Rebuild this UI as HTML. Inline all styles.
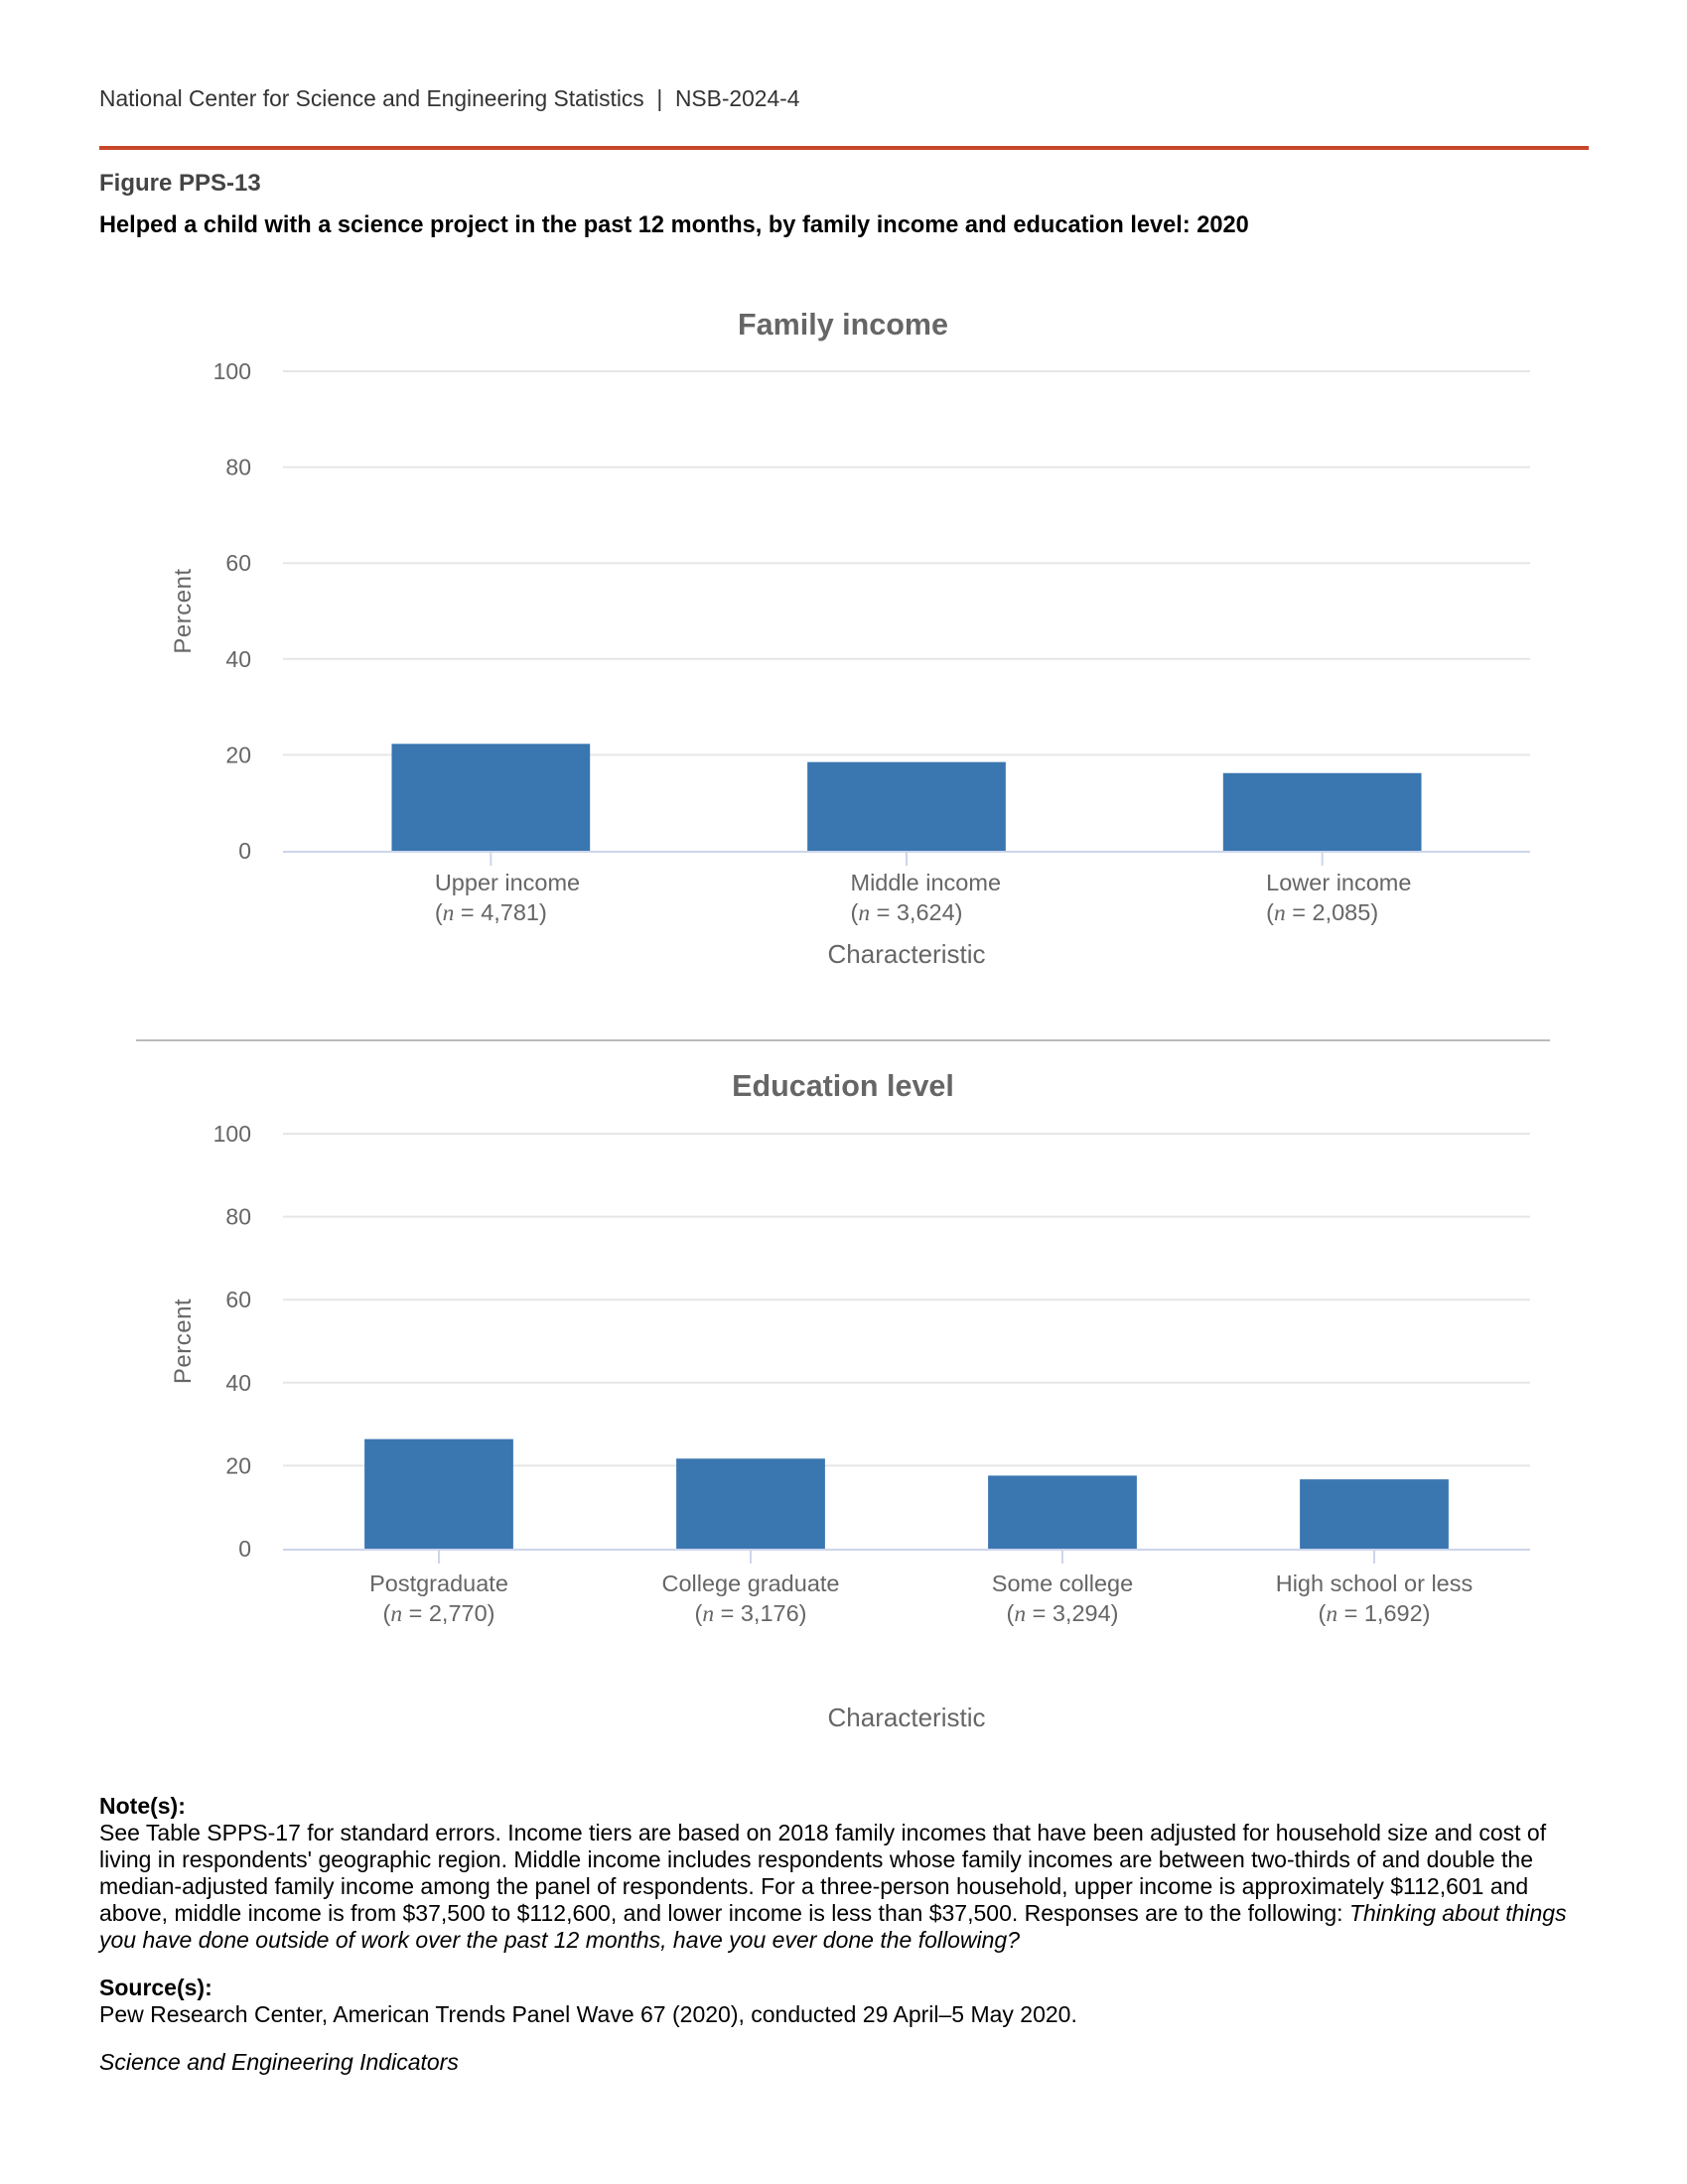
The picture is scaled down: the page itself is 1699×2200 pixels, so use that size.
<!DOCTYPE html>
<html><head><meta charset="utf-8"><style>
body{margin:0;background:#fff;}
#page{position:relative;width:1699px;height:2200px;overflow:hidden;font-family:"Liberation Sans",sans-serif;}
.t{position:absolute;white-space:nowrap;}
.note{position:absolute;left:100px;font-size:23px;color:#000;white-space:nowrap;line-height:27px;}
</style></head><body>
<div id="page">
<div class="t" style="left:100px;top:86px;font-size:22.8px;color:#333;">National Center for Science and Engineering Statistics&nbsp; |&nbsp; NSB-2024-4</div>
<div style="position:absolute;left:100px;top:147px;width:1500px;height:4px;background:#c8472b;"></div>
<div class="t" style="left:100px;top:171px;font-size:24px;font-weight:bold;color:#444;">Figure PPS-13</div>
<div class="t" style="left:100px;top:214px;font-size:23.6px;font-weight:bold;color:#000;">Helped a child with a science project in the past 12 months, by family income and education level: 2020</div>

<svg id="chart" width="1699" height="1800" style="position:absolute;left:0;top:0;font-family:'Liberation Sans',sans-serif;"></svg>

<div class="note" style="top:1806px;">
<b>Note(s):</b><br>
See Table SPPS-17 for standard errors. Income tiers are based on 2018 family incomes that have been adjusted for household size and cost of<br>
living in respondents' geographic region. Middle income includes respondents whose family incomes are between two-thirds of and double the<br>
median-adjusted family income among the panel of respondents. For a three-person household, upper income is approximately $112,601 and<br>
above, middle income is from $37,500 to $112,600, and lower income is less than $37,500. Responses are to the following: <i>Thinking about things</i><br>
<i>you have done outside of work over the past 12 months, have you ever done the following?</i>
</div>
<div class="note" style="top:1989px;"><b>Source(s):</b><br>Pew Research Center, American Trends Panel Wave 67 (2020), conducted 29 April–5 May 2020.</div>
<div class="note" style="top:2064px;"><i>Science and Engineering Indicators</i></div>
</div>
<script>
const incomeCategories = ["Upper income", "Middle income", "Lower income"];
const incomeN = ["4,781", "3,624", "2,085"];
const incomeValues = [22.3, 18.5, 16.2];
const eduCategories = ["Postgraduate", "College graduate", "Some college", "High school or less"];
const eduN = ["2,770", "3,176", "3,294", "1,692"];
const eduValues = [26.4, 21.7, 17.6, 16.7];
const yTicks = [0, 20, 40, 60, 80, 100];

const NS = "http://www.w3.org/2000/svg";
const svg = document.getElementById('chart');
function mk(tag, attrs, parent) {
  const e = document.createElementNS(NS, tag);
  for (const k in attrs) e.setAttribute(k, attrs[k]);
  (parent || svg).appendChild(e);
  return e;
}
function drawChart(cfg) {
  const x0 = 285, x1 = 1541;
  const y = v => cfg.yBottom - (v / 100) * (cfg.yBottom - cfg.yTop);
  const n = cfg.cats.length, band = (x1 - x0) / n;
  const cx = i => x0 + band * (i + 0.5);
  const g = mk('g', {});
  
  
  const title = mk('text', {x: 849, y: cfg.titleY, 'text-anchor': 'middle', 'font-size': 30.5, 'font-weight': 'bold', fill: '#666'}, g);
  title.textContent = cfg.title;
  
  
  yTicks.forEach(t => {
    if (t > 0) {
      const l = mk('line', {x1: x0, x2: x1, y1: y(t), y2: y(t), stroke: '#e6e6e6', 'stroke-width': 2}, g);
      
      
    }
    const tl = mk('text', {x: 253, y: y(t) + 8, 'text-anchor': 'end', 'font-size': 23, fill: '#666'}, g);
    tl.textContent = t;
    
    
  });
  const yt = mk('text', {transform: `translate(192,${(cfg.yTop + cfg.yBottom) / 2}) rotate(-90)`, 'text-anchor': 'middle', 'font-size': 24, fill: '#666', 'letter-spacing': 0.5}, g);
  yt.textContent = 'Percent';
  
  
  cfg.vals.forEach((v, i) => {
    const w = band * 0.477;
    const r = mk('rect', {x: cx(i) - w / 2, y: y(v), width: w, height: y(0) - y(v), fill: '#3a76b0'}, g);
    
    
  });
  const ax = mk('line', {x1: x0, x2: x1, y1: y(0) + 1, y2: y(0) + 1, stroke: '#ccd6eb', 'stroke-width': 2}, g);
  
  
  cfg.cats.forEach((c, i) => {
    const tk = mk('line', {x1: cx(i), x2: cx(i), y1: y(0) + 1, y2: y(0) + 15, stroke: '#ccd6eb', 'stroke-width': 2}, g);
    
    
    const l2 = mk('text', {x: cx(i), y: cfg.labelY + 30, 'text-anchor': 'middle', 'font-size': 23.5, fill: '#666'}, g);
    l2.innerHTML = '(<tspan font-style="italic" font-family="Liberation Serif">n</tspan> = ' + cfg.ns[i] + ')';
    
    
    const l1 = mk('text', {x: cx(i), y: cfg.labelY, 'text-anchor': 'middle', 'font-size': 23.5, fill: '#666'}, g);
    l1.textContent = c;
    
    
    if (cfg.leftAlign) {
      const bb = l2.getBBox();
      l1.setAttribute('x', bb.x);
      l1.setAttribute('text-anchor', 'start');
    }
  });
  const xt = mk('text', {x: 913, y: cfg.xTitleY, 'text-anchor': 'middle', 'font-size': 26, fill: '#666'}, g);
  xt.textContent = 'Characteristic';
  
  
}
drawChart({name: 'family-income-chart', title: 'Family income', cats: incomeCategories, ns: incomeN, vals: incomeValues,
  yTop: 374, yBottom: 857, titleY: 337, labelY: 897, xTitleY: 970, leftAlign: true});
const sep = mk('line', {x1: 137, x2: 1561, y1: 1048, y2: 1048, stroke: '#bbb', 'stroke-width': 2});


drawChart({name: 'education-level-chart', title: 'Education level', cats: eduCategories, ns: eduN, vals: eduValues,
  yTop: 1142, yBottom: 1560, titleY: 1104, labelY: 1603, xTitleY: 1739, leftAlign: false});
</script>
</body></html>
